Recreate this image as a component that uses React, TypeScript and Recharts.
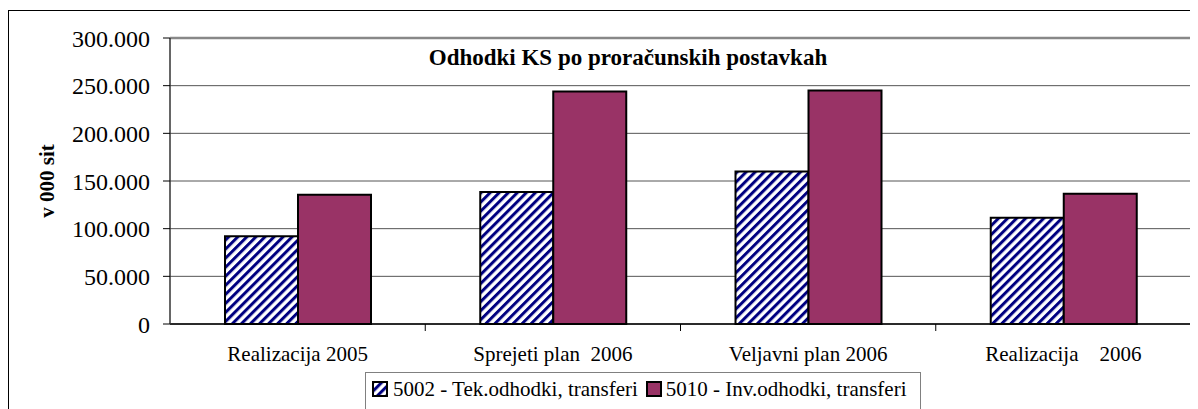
import React from 'react';
import {
  BarChart,
  Bar,
  XAxis,
  YAxis,
  CartesianGrid,
  Legend,
  ReferenceLine
} from 'recharts';

const categories = ['Realizacija 2005', 'Sprejeti plan  2006', 'Veljavni plan 2006', 'Realizacija    2006'];
const tekOdhodki = [92000, 138500, 160000, 111500];
const invOdhodki = [135500, 244000, 245000, 136500];
const yTicks = [0, 50000, 100000, 150000, 200000, 250000, 300000];
const seriesNames = ['5002 - Tek.odhodki, transferi', '5010 - Inv.odhodki, transferi'];

const data = categories.map((c, i) => ({ name: c, tek: tekOdhodki[i], inv: invOdhodki[i] }));

const FONT = 'Liberation Serif';
const CHART_W = 1182;
const PLOT_LEFT = 161;
const BAND = (CHART_W - PLOT_LEFT) / categories.length;

// 300000 -> "300.000"
const fmt = (v: number) => String(v).replace(/\B(?=(\d{3})+(?!\d))/g, '.');

const CategoryTick = (props: any) => {
  const { x, y, payload } = props;
  return (
    <g>
      <line x1={x + BAND / 2} y1={y} x2={x + BAND / 2} y2={y + 7} stroke="#000" strokeWidth={1} />
      <text x={x} y={y + 37} textAnchor="middle" fontFamily={FONT} fontSize={21} fill="#000" style={{ whiteSpace: 'pre', fontFamily: FONT }}>
        {payload.value}
      </text>
    </g>
  );
};

const Hatch = ({ id }: { id: string }) => (
  <pattern id={id} patternUnits="userSpaceOnUse" width={6.4} height={6.4} patternTransform="rotate(45)">
    <rect width={6.4} height={6.4} fill="#fff" />
    <rect x={0} y={0} width={3} height={6.4} fill="#000080" />
  </pattern>
);

const LegendBox = () => (
  <div
    style={{
      boxSizing: 'border-box',
      height: 40,
      width: 556,
      border: '1.5px solid #808080',
      borderBottom: 'none',
      display: 'flex',
      alignItems: 'flex-start',
      paddingTop: 3,
      paddingLeft: 6,
      fontFamily: FONT,
      fontSize: 21,
      lineHeight: '26px',
      color: '#000',
      background: '#fff',
      whiteSpace: 'nowrap'
    }}
  >
    <svg width={17} height={17} style={{ marginTop: 5, marginRight: 4 }}>
      <defs>
        <Hatch id="hatchLegend" />
      </defs>
      <rect x={1} y={1} width={14} height={14} fill="url(#hatchLegend)" stroke="#000" strokeWidth={2} />
    </svg>
    <span style={{ marginRight: 8 }}>{seriesNames[0]}</span>
    <svg width={17} height={17} style={{ marginTop: 5, marginRight: 3 }}>
      <rect x={1} y={1} width={14} height={14} fill="#993366" stroke="#000" strokeWidth={2} />
    </svg>
    <span>{seriesNames[1]}</span>
  </div>
);

export default function App() {
  return (
    <div style={{ paddingTop: 2, fontFamily: FONT }}>
      <div style={{ position: 'relative', width: 1192, height: 402, border: '1px solid #000', background: '#fff' }}>
        <div
          style={{
            position: 'absolute',
            left: 319,
            top: 35,
            width: 600,
            textAlign: 'center',
            fontFamily: FONT,
            fontWeight: 'bold',
            fontSize: 23,
            lineHeight: '23px',
            zIndex: 2
          }}
        >
          Odhodki KS po proračunskih postavkah
        </div>
        <BarChart
          width={CHART_W}
          height={401}
          data={data}
          margin={{ top: 27, right: 0, bottom: 0, left: 0 }}
          barSize={73}
          barGap={0}
          style={{ fontFamily: FONT }}
        >
          <defs>
            <Hatch id="hatchBar" />
          </defs>
          <CartesianGrid vertical={false} stroke="#555" strokeWidth={1} />
          <XAxis
            dataKey="name"
            height={48}
            axisLine={{ stroke: '#000', strokeWidth: 1.5 }}
            tickLine={false}
            tickSize={0}
            tickMargin={0}
            tick={<CategoryTick />}
            interval={0}
          />
          <YAxis
            width={PLOT_LEFT}
            domain={[0, 300000]}
            ticks={yTicks}
            tickFormatter={fmt}
            axisLine={{ stroke: '#333', strokeWidth: 1.5 }}
            tickLine={{ stroke: '#000' }}
            tickSize={7}
            tickMargin={13}
            tick={{ fontFamily: FONT, fontSize: 24, fill: '#000', style: { fontFamily: FONT } }}
            label={{
              content: () => (
                <text
                  x={38}
                  y={170}
                  transform="rotate(-90, 38, 170)"
                  textAnchor="middle"
                  dominantBaseline="central"
                  fontFamily={FONT}
                  fontWeight="bold"
                  fontSize={21}
                  fill="#000"
                  style={{ fontFamily: FONT }}
                >
                  v 000 sit
                </text>
              )
            }}
          />
          <YAxis
            yAxisId="frame"
            orientation="right"
            width={0}
            domain={[0, 300000]}
            tick={false}
            tickLine={false}
            axisLine={{ stroke: '#888', strokeWidth: 2.5 }}
          />
          <ReferenceLine y={300000} stroke="#888" strokeWidth={2.5} />
          <Legend
            verticalAlign="bottom"
            wrapperStyle={{ left: 356, width: 556 }}
            content={<LegendBox />}
          />
          <Bar dataKey="tek" name={seriesNames[0]} fill="url(#hatchBar)" stroke="#000" strokeWidth={2} isAnimationActive={false} />
          <Bar dataKey="inv" name={seriesNames[1]} fill="#993366" stroke="#000" strokeWidth={2} isAnimationActive={false} />
        </BarChart>
      </div>
    </div>
  );
}
